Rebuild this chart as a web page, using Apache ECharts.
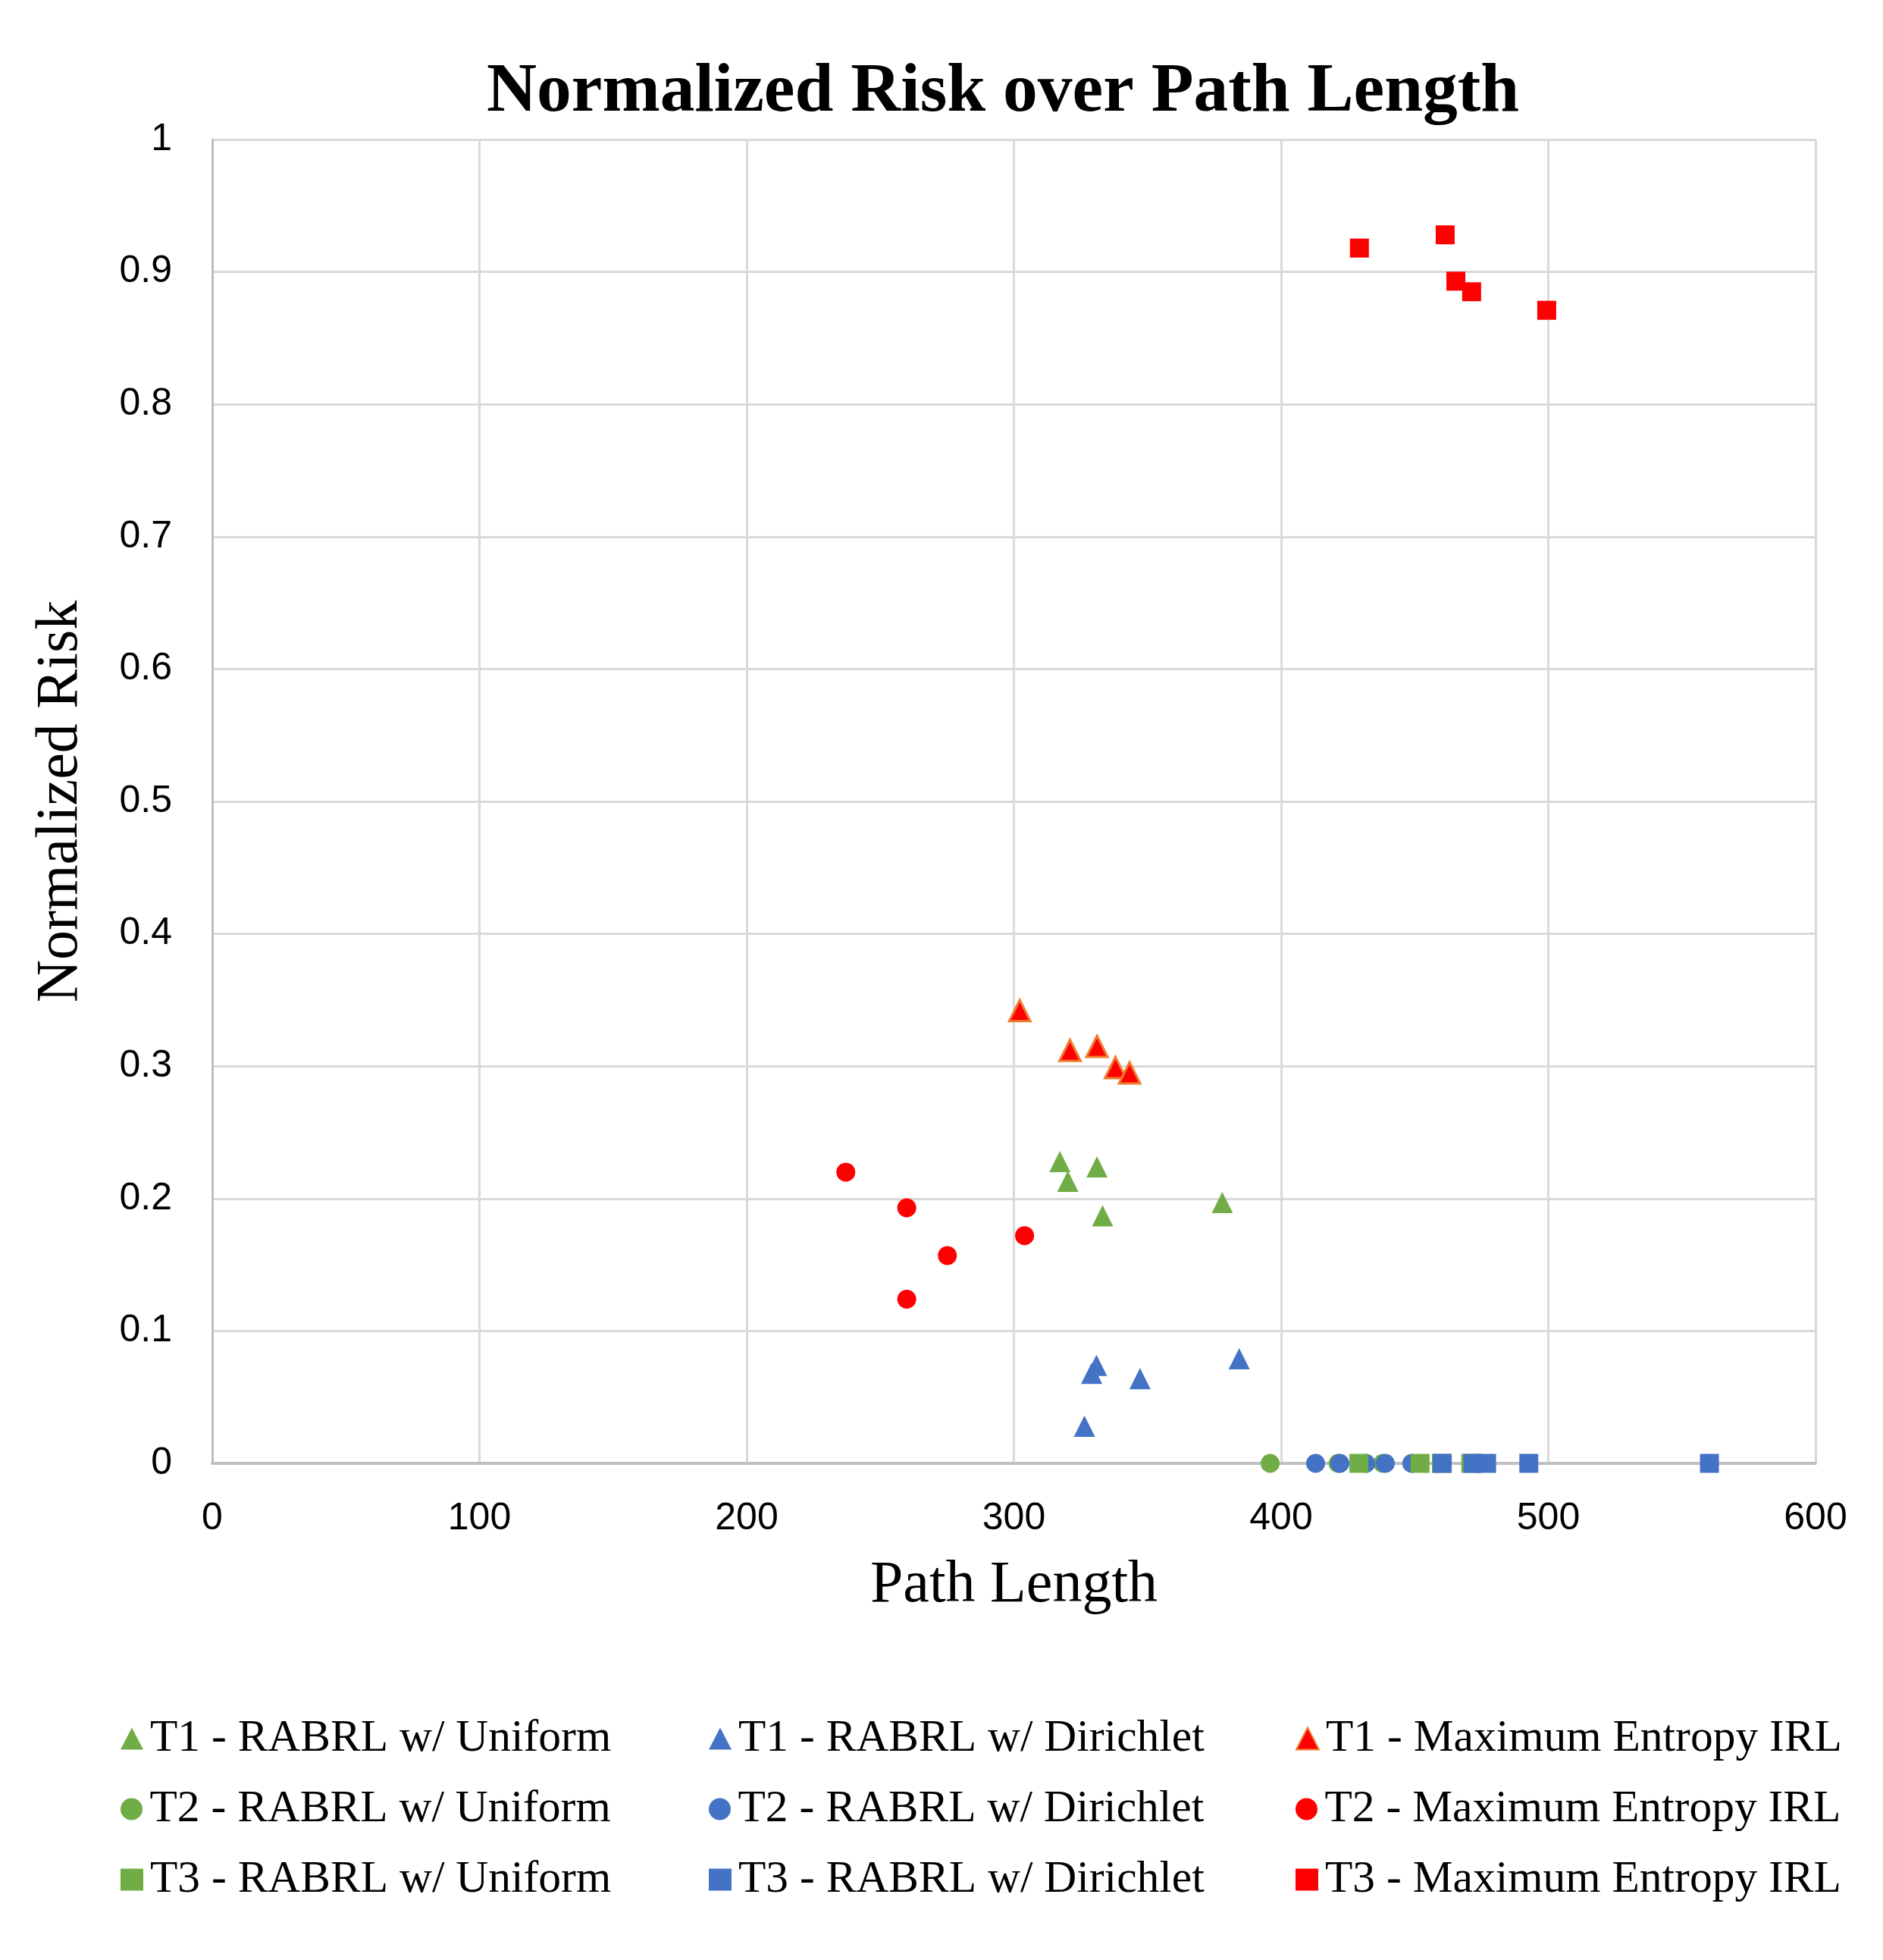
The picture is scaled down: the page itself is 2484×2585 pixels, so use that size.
<!DOCTYPE html>
<html>
<head>
    <meta charset="UTF-8">
    <title>Normalized Risk over Path Length</title>
    <script src="https://cdn.jsdelivr.net/npm/echarts@6.0.0/dist/echarts.min.js"></script>
    <style>
        html, body { margin: 0; padding: 0; background: #fff; }
        #chart { width: 2484px; height: 2585px; }
    </style>
</head>
<body>
    <div id="chart"></div>

    <script>
        // [path length, normalized risk]
        const t1Uniform   = [[317.2, 0.228], [331.1, 0.224], [320.2, 0.213], [378.0, 0.197], [333.2, 0.187]];
        const t1Dirichlet = [[330.9, 0.074], [329.1, 0.068], [347.2, 0.064], [384.3, 0.079], [326.4, 0.028]];
        const t1MaxEnt    = [[302.2, 0.342], [321.0, 0.312], [331.1, 0.315], [338.0, 0.299], [343.3, 0.295]];
        const t2Uniform   = [[395.9, 0], [421.3, 0], [438.0, 0]];
        const t2Dirichlet = [[412.9, 0], [422.0, 0], [431.7, 0], [439.0, 0], [448.9, 0]];
        const t2MaxEnt    = [[237.1, 0.220], [259.9, 0.193], [304.0, 0.172], [275.1, 0.157], [259.9, 0.124]];
        const t3Uniform   = [[429.1, 0], [452.0, 0], [460.0, 0], [471.0, 0]];
        const t3Dirichlet = [[460.3, 0], [471.8, 0], [476.9, 0], [492.7, 0], [560.3, 0]];
        const t3MaxEnt    = [[429.3, 0.918], [461.4, 0.928], [465.4, 0.893], [471.3, 0.885], [499.4, 0.871]];

        const seriesNames = [
            'T1 - RABRL w/ Uniform', 'T1 - RABRL w/ Dirichlet', 'T1 - Maximum Entropy IRL',
            'T2 - RABRL w/ Uniform', 'T2 - RABRL w/ Dirichlet', 'T2 - Maximum Entropy IRL',
            'T3 - RABRL w/ Uniform', 'T3 - RABRL w/ Dirichlet', 'T3 - Maximum Entropy IRL'
        ];
        const seriesData = [t1Uniform, t1Dirichlet, t1MaxEnt, t2Uniform, t2Dirichlet, t2MaxEnt, t3Uniform, t3Dirichlet, t3MaxEnt];

        const GREEN = '#70AD47', BLUE = '#4472C4', RED = '#FF0000', ORANGE = '#ED7D31';
        const styles = [
            { symbol: 'triangle', size: 28, color: GREEN },
            { symbol: 'triangle', size: 28, color: BLUE },
            { symbol: 'triangle', size: 28, color: RED, border: ORANGE },
            { symbol: 'circle', size: 25, color: GREEN },
            { symbol: 'circle', size: 25, color: BLUE },
            { symbol: 'circle', size: 25, color: RED },
            { symbol: 'rect', size: 25, color: GREEN },
            { symbol: 'rect', size: 25, color: BLUE },
            { symbol: 'rect', size: 25, color: RED }
        ];

        const chart = echarts.init(document.getElementById('chart'));

        const series = seriesNames.map((name, i) => ({
            name: name,
            type: 'scatter',
            clip: false,
            symbol: styles[i].symbol,
            symbolSize: styles[i].size,
            data: seriesData[i],
            itemStyle: {
                color: styles[i].color,
                borderColor: styles[i].border || styles[i].color,
                borderWidth: styles[i].border ? 3 : 0,
                opacity: 1
            }
        }));

        // legend laid out as a 3x3 table: one small legend per cell
        const colMarkerX = [169, 945, 1719];
        const rowTop = [2258, 2351, 2444];
        const legends = seriesNames.map((name, i) => ({
            data: [name],
            left: colMarkerX[i % 3] - 15,
            top: rowTop[Math.floor(i / 3)],
            itemWidth: 30,
            itemHeight: 29,
            selectedMode: false,
            textStyle: {
                fontFamily: 'Liberation Serif',
                fontSize: 59.5,
                color: '#000',
                padding: [0, 0, 0, 4]
            }
        }));

        const option = {
            backgroundColor: '#fff',
            animation: false,
            title: {
                text: 'Normalized Risk over Path Length',
                left: 637,
                top: 71,
                textStyle: {
                    fontFamily: 'Liberation Serif',
                    fontWeight: 'bold',
                    fontSize: 91.5,
                    color: '#000'
                }
            },
            legend: legends,
            grid: {
                left: 280,
                right: 89,
                top: 184,
                bottom: 655,
                containLabel: false
            },
            xAxis: {
                type: 'value',
                min: 0,
                max: 600,
                interval: 100,
                name: 'Path Length',
                nameLocation: 'middle',
                nameGap: 123,
                nameTextStyle: { fontFamily: 'Liberation Serif', fontSize: 78, color: '#000' },
                axisLine: { show: true, lineStyle: { color: '#BFBFBF', width: 4 } },
                axisTick: { show: false },
                axisLabel: { margin: 48, fontFamily: 'Liberation Sans', fontSize: 50, color: '#000' },
                splitLine: { show: true, lineStyle: { color: '#D9D9D9', width: 3 } }
            },
            yAxis: {
                type: 'value',
                min: 0,
                max: 1,
                interval: 0.1,
                name: 'Normalized Risk',
                nameLocation: 'middle',
                nameGap: 160,
                nameTextStyle: { fontFamily: 'Liberation Serif', fontSize: 78, color: '#000' },
                axisLine: { show: true, lineStyle: { color: '#BFBFBF', width: 3 } },
                axisTick: { show: false },
                axisLabel: {
                    margin: 53,
                    fontFamily: 'Liberation Sans',
                    fontSize: 50,
                    color: '#000',
                    formatter: v => String(Math.round(v * 10) / 10)
                },
                splitLine: { show: true, lineStyle: { color: '#D9D9D9', width: 3 } }
            },
            series: series
        };

        chart.setOption(option);
    </script>
</body>
</html>
